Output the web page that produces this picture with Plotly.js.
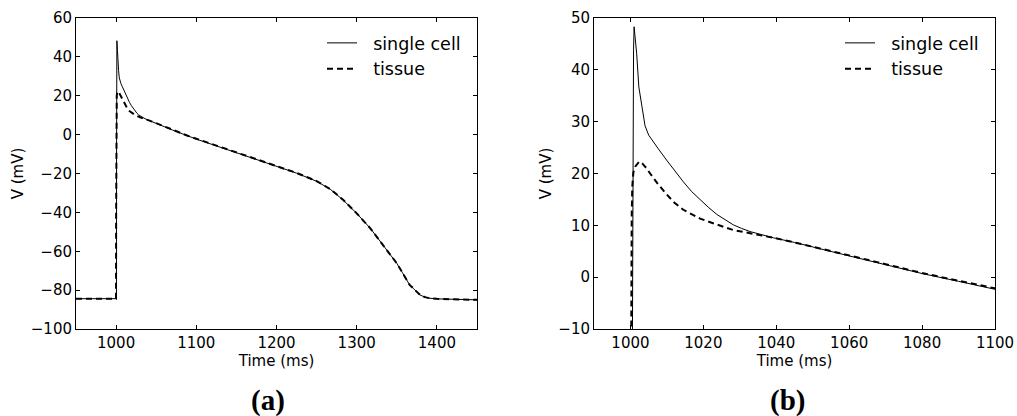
<!DOCTYPE html>
<html>
<head>
<meta charset="utf-8">
<script src="https://cdn.plot.ly/plotly-3.0.1.min.js"></script>
<style>
html,body{margin:0;padding:0;background:#fff;}
#chart{width:1017px;height:416px;}
</style>
</head>
<body>
<div id="chart"></div>
<script>
// Time (ms) and membrane potential (mV)
const singleCellTime = [950, 1000.45, 1000.55, 1000.7, 1000.85, 1001, 1001.7, 1002.3, 1003.1, 1004, 1005, 1006, 1007.5, 1009.9, 1012.2, 1014.5, 1016.8, 1019.1, 1021.5, 1023.7, 1026, 1028.2, 1030.5, 1032.8, 1036, 1039.2, 1045, 1050, 1060, 1070, 1080, 1090, 1100, 1125, 1150, 1175, 1200, 1225, 1250, 1267, 1283, 1300, 1317, 1333, 1342, 1350, 1357, 1362.3, 1366, 1370.6, 1375, 1379, 1385, 1391.4, 1400, 1412, 1450];
const singleCellV = [-84.4, -84.4, -10, 30, 44, 48.3, 43.2, 36.7, 32.9, 29.2, 27.4, 26.3, 24.9, 22.6, 20.4, 18.4, 16.5, 14.9, 13.4, 12.1, 11.0, 10.1, 9.4, 8.8, 8.2, 7.6, 6.7, 5.8, 4.1, 2.4, 0.7, -0.8, -2.3, -5.8, -9.4, -12.8, -16.2, -19.8, -24.0, -28.1, -33.6, -40.5, -48.2, -56.8, -61.5, -66.2, -71.0, -74.8, -77.3, -79.1, -81.0, -82.5, -83.6, -84.2, -84.5, -84.7, -85.0];

const tissueTime = [950, 999.9, 1000.05, 1000.2, 1000.35, 1000.5, 1000.8, 1001.3, 1002, 1002.4, 1003.3, 1004.3, 1005.4, 1007.5, 1009.9, 1012, 1014.5, 1017, 1019.1, 1021.5, 1023.7, 1026, 1028.2, 1030.5, 1032.8, 1036, 1039.2, 1045, 1050, 1060, 1070, 1080, 1090, 1100, 1125, 1150, 1175, 1200, 1225, 1250, 1267, 1283, 1300, 1317, 1333, 1342, 1350, 1357, 1362.3, 1366, 1370.6, 1375, 1379, 1385, 1391.4, 1400, 1412, 1450];
const tissueV = [-84.4, -84.4, -40, -5, 12, 17.5, 20.2, 21.3, 22.1, 22.3, 21.9, 21.1, 20.0, 18.0, 16.0, 14.4, 13.0, 12.0, 11.3, 10.7, 10.1, 9.6, 9.1, 8.8, 8.5, 8.1, 7.6, 6.7, 5.9, 4.2, 2.5, 0.8, -0.7, -2.1, -5.7, -9.3, -12.7, -16.1, -19.7, -23.9, -28.0, -33.5, -40.5, -48.2, -56.8, -61.5, -66.2, -71.0, -74.8, -77.3, -79.1, -81.0, -82.5, -83.6, -84.2, -84.5, -84.7, -85.0];

const seriesNames = ['single cell', 'tissue'];
const panelLabels = ['<b>(a)</b>', '<b>(b)</b>'];
const xTitle = 'Time (ms)';
const yTitle = 'V (mV)';

const W = 1017, H = 416;
const solid = {color: '#000', width: 1};
const dashed = {color: '#000', width: 2, dash: '6px,4px'};
const gap = '\u00a0\u00a0';

const traces = [
  {x: singleCellTime, y: singleCellV, name: gap + seriesNames[0], mode: 'lines', line: solid, xaxis: 'x', yaxis: 'y', legend: 'legend'},
  {x: tissueTime, y: tissueV, name: gap + seriesNames[1], mode: 'lines', line: dashed, xaxis: 'x', yaxis: 'y', legend: 'legend'},
  {x: singleCellTime, y: singleCellV, name: gap + seriesNames[0], mode: 'lines', line: solid, xaxis: 'x2', yaxis: 'y2', legend: 'legend2'},
  {x: tissueTime, y: tissueV, name: gap + seriesNames[1], mode: 'lines', line: dashed, xaxis: 'x2', yaxis: 'y2', legend: 'legend2'}
];

const tickFont = {family: 'DejaVu Sans', size: 15, color: '#000'};
function ax(extra) {
  return Object.assign({
    showline: true, linecolor: '#000', linewidth: 1, mirror: 'allticks',
    ticks: 'inside', ticklen: 4, tickwidth: 1, tickcolor: '#000',
    showgrid: false, zeroline: false, tickfont: tickFont
  }, extra);
}
const yDom = [1 - 329 / H, 1 - 18 / H];

const legendBase = {
  bgcolor: 'rgba(0,0,0,0)', borderwidth: 0, xanchor: 'left', yanchor: 'top',
  font: {family: 'DejaVu Sans', size: 17.5, color: '#000'}, itemwidth: 30, tracegroupgap: 0
};

const layout = {
  width: W, height: H,
  margin: {l: 0, r: 0, t: 0, b: 0},
  paper_bgcolor: '#fff', plot_bgcolor: '#fff',
  showlegend: true,
  xaxis: ax({domain: [76 / W, 477 / W], range: [950, 1450], tickvals: [1000, 1100, 1200, 1300, 1400], anchor: 'y',
    title: {text: xTitle, font: tickFont, standoff: 2}}),
  yaxis: ax({domain: yDom, range: [-100, 60], dtick: 20, anchor: 'x',
    title: {text: yTitle, font: tickFont, standoff: 3}}),
  xaxis2: ax({domain: [594 / W, 995 / W], range: [990, 1100], tickvals: [1000, 1020, 1040, 1060, 1080, 1100], anchor: 'y2',
    title: {text: xTitle, font: tickFont, standoff: 2}}),
  yaxis2: ax({domain: yDom, range: [-10, 50], dtick: 10, anchor: 'x2',
    title: {text: yTitle, font: tickFont, standoff: 3}}),
  legend: Object.assign({}, legendBase, {x: 322 / W, y: 1 - 25 / H}),
  legend2: Object.assign({}, legendBase, {x: 840 / W, y: 1 - 25 / H}),
  annotations: [
    {text: panelLabels[0], xref: 'paper', yref: 'paper', x: 268 / W, y: 1 - 400 / H, xanchor: 'center', yanchor: 'middle', showarrow: false,
      font: {family: 'Liberation Serif', size: 29, color: '#000'}},
    {text: panelLabels[1], xref: 'paper', yref: 'paper', x: 787 / W, y: 1 - 400 / H, xanchor: 'center', yanchor: 'middle', showarrow: false,
      font: {family: 'Liberation Serif', size: 29, color: '#000'}}
  ]
};

Plotly.newPlot('chart', traces, layout, {staticPlot: true, displayModeBar: false});
</script>
</body>
</html>
